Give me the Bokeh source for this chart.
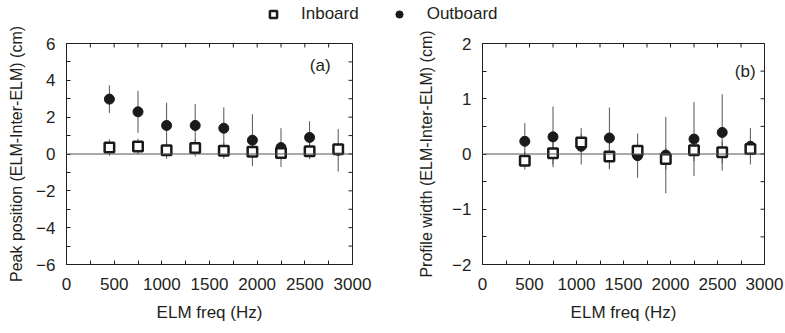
import math
from bokeh.plotting import figure
from bokeh.models import Range1d, FixedTicker, Span, Label, Legend, LegendItem
from bokeh.layouts import column, row
from bokeh.embed import file_html
from bokeh.resources import INLINE

# ---- data ----
freq = [450, 750, 1050, 1350, 1650, 1950, 2250, 2550, 2850]

peak_in = [0.35, 0.41, 0.21, 0.32, 0.17, 0.12, 0.06, 0.15, 0.26]
peak_in_err = [0.45, 0.42, 0.47, 0.45, 0.43, 0.30, 0.30, 0.43, 0.30]
peak_out = [2.98, 2.29, 1.55, 1.55, 1.40, 0.75, 0.35, 0.90, 0.20]
peak_out_err = [0.75, 1.14, 1.23, 1.16, 1.13, 1.41, 1.05, 0.88, 1.15]

width_in = [-0.12, 0.015, 0.21, -0.045, 0.06, -0.09, 0.07, 0.03, 0.09]
width_in_err = [0.16, 0.20, 0.15, 0.23, 0.15, 0.20, 0.20, 0.20, 0.15]
width_out = [0.23, 0.31, 0.14, 0.29, -0.03, -0.02, 0.27, 0.39, 0.14]
width_out_err = [0.33, 0.55, 0.33, 0.55, 0.40, 0.69, 0.67, 0.69, 0.33]

x_ticks = [0, 500, 1000, 1500, 2000, 2500, 3000]
x_minor = [250, 750, 1250, 1750, 2250, 2750]
peak_ticks = [-6, -4, -2, 0, 2, 4, 6]
peak_minor = [-5, -3, -1, 1, 3, 5]
width_ticks = [-2, -1, 0, 1, 2]
width_minor = [-1.5, -0.5, 0.5, 1.5]

FONT = "Liberation Sans"
TXT = "#231f20"
FS = "17px"
STRIP_H = 24
PANEL_H = 333 - STRIP_H


def style_axis(ax):
    ax.major_tick_in = 4
    ax.major_tick_out = 0
    ax.minor_tick_in = 4
    ax.minor_tick_out = 0
    ax.axis_line_color = TXT
    ax.major_tick_line_color = TXT
    ax.minor_tick_line_color = TXT
    ax.major_label_text_font = FONT
    ax.major_label_text_color = TXT
    ax.major_label_text_font_size = FS
    ax.axis_label_text_font = FONT
    ax.axis_label_text_color = TXT
    ax.axis_label_text_font_style = "normal"
    ax.axis_label_text_font_size = FS


def make_panel(yin, yin_err, yout, yout_err, yr, yt, ym, ylabel, y_label_standoff,
               tag, tag_x, tag_y, bl, br, fw):
    p = figure(width=bl + br + fw, height=PANEL_H,
               x_range=Range1d(0, 3000), y_range=Range1d(*yr),
               output_backend="svg", toolbar_location=None,
               min_border_left=bl, min_border_right=br,
               min_border_top=43 - STRIP_H, min_border_bottom=69)
    p.xgrid.visible = False
    p.ygrid.visible = False
    p.outline_line_color = TXT
    p.outline_line_width = 1
    p.background_fill_color = "white"
    p.border_fill_color = "white"

    p.xaxis.ticker = FixedTicker(ticks=x_ticks, minor_ticks=x_minor)
    p.yaxis.ticker = FixedTicker(ticks=yt, minor_ticks=ym)
    style_axis(p.xaxis[0])
    style_axis(p.yaxis[0])
    p.xaxis.axis_label = "ELM freq (Hz)"
    p.yaxis.axis_label = ylabel
    p.yaxis.axis_label_text_font_size = "16px"
    p.xaxis.major_label_standoff = 13
    p.xaxis.axis_label_standoff = 10
    p.yaxis.major_label_standoff = 11
    p.yaxis.axis_label_standoff = y_label_standoff

    # mirrored inward ticks on the top and right edges of the frame
    xt_all = x_ticks + x_minor
    yt_all = yt + ym
    p.scatter(x=xt_all, y=[yr[1]] * len(xt_all), marker="dash", size=8,
              angle=math.pi / 2, line_color=TXT, line_width=1)
    p.scatter(x=[3000] * len(yt_all), y=yt_all, marker="dash", size=8,
              line_color=TXT, line_width=1)

    p.add_layout(Span(location=0, dimension="width", line_color="#555555", line_width=1))

    lo_out = [v - e for v, e in zip(yout, yout_err)]
    hi_out = [v + e for v, e in zip(yout, yout_err)]
    lo_in = [v - e for v, e in zip(yin, yin_err)]
    hi_in = [v + e for v, e in zip(yin, yin_err)]
    p.segment(x0=freq, y0=lo_out, x1=freq, y1=hi_out, line_color="#555555", line_width=1)
    p.segment(x0=freq, y0=lo_in, x1=freq, y1=hi_in, line_color="#555555", line_width=1)

    p.scatter(x=freq, y=yout, marker="circle", size=10, fill_color="#1a1a1a",
              line_color="#1a1a1a", line_width=1)
    p.scatter(x=freq, y=yin, marker="square", size=9.5, fill_color="white",
              line_color="#1a1a1a", line_width=2.5)

    p.add_layout(Label(x=tag_x, y=tag_y, text=tag, text_font=FONT, text_font_size=FS,
                       text_color=TXT, text_align="right", text_baseline="middle"))
    return p


p1 = make_panel(peak_in, peak_in_err, peak_out, peak_out_err, (-6, 6), peak_ticks, peak_minor,
                "Peak position (ELM-Inter-ELM) (cm)", 8,
                "(a)", 2770, 4.8, 66, 63, 286)
p2 = make_panel(width_in, width_in_err, width_out, width_out_err, (-2, 2), width_ticks, width_minor,
                "Profile width (ELM-Inter-ELM) (cm)", 14,
                "(b)", 2905, 1.5, 64, 21, 285)

# legend strip
leg = figure(width=785, height=STRIP_H, x_range=Range1d(0, 1), y_range=Range1d(0, 1),
             output_backend="svg", toolbar_location=None,
             min_border=0, min_border_left=0, min_border_right=0,
             min_border_top=0, min_border_bottom=0)
leg.xaxis.visible = False
leg.yaxis.visible = False
leg.xgrid.visible = False
leg.ygrid.visible = False
leg.outline_line_color = None
r_in = leg.scatter(x=[-5], y=[-5], marker="square", size=9, fill_color="white",
                   line_color="#1a1a1a", line_width=2.5)
r_out = leg.scatter(x=[-5], y=[-5], marker="circle", size=12, fill_color="#1a1a1a",
                    line_color="#1a1a1a")
legend = Legend(items=[LegendItem(label="Inboard", renderers=[r_in]),
                       LegendItem(label="Outboard", renderers=[r_out])],
                orientation="horizontal", location=(263, 0),
                glyph_width=20, glyph_height=18, label_height=18,
                label_standoff=18, spacing=30, padding=0, margin=0,
                border_line_color=None, background_fill_alpha=0,
                label_text_font=FONT, label_text_font_size=FS, label_text_color=TXT)
leg.add_layout(legend, "center")

layout = column(leg, row(p1, p2, spacing=0), spacing=0)

open("out.html", "w").write(file_html(layout, INLINE))
